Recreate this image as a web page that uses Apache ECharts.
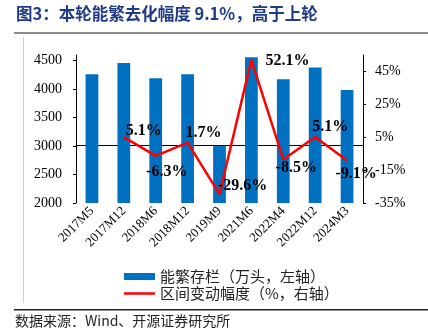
<!DOCTYPE html>
<html><head><meta charset="utf-8">
<script src="https://cdn.jsdelivr.net/npm/echarts@6/dist/echarts.min.js"></script>
<style>html,body{margin:0;padding:0;background:#fff}#c{width:428px;height:328px}</style>
</head><body><div id="c"></div>
<script>
var categories = ['2017M5','2017M12','2018M6','2018M12','2019M9','2021M6','2022M4','2022M12','2024M3'];
var sowStock = [4260, 4460, 4190, 4260, 3000, 4560, 4175, 4380, 3985];
var changePct = [null, 5.1, -6.3, 1.7, -29.6, 52.1, -8.5, 5.1, -9.1];
var labelOffsets = [null, [20,-6], [11,16], [16,-10], [23,-8], [36,1], [13,8], [15,-10], [9,13]];
var leftTicks = {min: 2000, max: 4600, interval: 500};
var rightTicks = {min: -35, max: 55, interval: 20};
var nameBar = '能繁存栏（万头，左轴）';
var nameLine = '区间变动幅度（%，右轴）';
var titleText = '图3：本轮能繁去化幅度 9.1%，高于上轮';
var sourceText = '数据来源：Wind、开源证券研究所';

var serif = '"Liberation Serif", "Times New Roman", serif';
var cjk = '"Noto Sans CJK SC", sans-serif';

var lineData = changePct.map(function(v, i){
  if (v === null) return null;
  return {value: v, label: {show: true, position: 'inside', offset: labelOffsets[i],
    formatter: v.toFixed(1) + '%'}};
});

var chart = echarts.init(document.getElementById('c'), null, {renderer: 'canvas'});
chart.setOption({
  animation: false,
  grid: {left: 76, right: 65, top: 55, bottom: 125},
  legend: [
    {data: [nameBar], left: 119, top: 264, itemWidth: 31, itemHeight: 7, icon: 'rect',
     textStyle: {fontFamily: cjk, fontSize: 15, color: '#222'}},
    {data: [{name: nameLine, icon: 'rect', itemStyle: {color: '#ff0000'}}], left: 119, top: 281, itemWidth: 31, itemHeight: 2.5,
     textStyle: {fontFamily: cjk, fontSize: 15, color: '#222'}}
  ],
  xAxis: {
    type: 'category', data: categories, boundaryGap: true,
    axisLine: {lineStyle: {color: '#000', width: 1}},
    axisTick: {inside: true, length: 4, lineStyle: {color: '#000'}},
    axisLabel: {rotate: 45, fontFamily: serif, fontSize: 13, color: '#000', margin: 6, interval: 0}
  },
  yAxis: [
    {type: 'value', min: leftTicks.min, max: leftTicks.max, interval: leftTicks.interval,
     splitLine: {show: false},
     axisLine: {show: true, lineStyle: {color: '#000'}},
     axisTick: {show: true, length: 3, lineStyle: {color: '#000'}},
     axisLabel: {fontFamily: serif, fontSize: 14, color: '#000', showMaxLabel: false, margin: 14,
       formatter: function(v){ return String(v); }}},
    {type: 'value', min: rightTicks.min, max: rightTicks.max, interval: rightTicks.interval,
     splitLine: {show: false},
     axisLine: {show: true, lineStyle: {color: '#000'}},
     axisTick: {show: true, length: 3, lineStyle: {color: '#000'}},
     axisLabel: {fontFamily: serif, fontSize: 14, color: '#000', showMaxLabel: false, margin: 12,
       formatter: function(v){ return v + '%'; }}}
  ],
  series: [
    {name: nameBar, type: 'bar', data: sowStock, barWidth: '40%', itemStyle: {color: '#0070C0'}},
    {name: nameLine, type: 'line', yAxisIndex: 1, data: lineData, connectNulls: false,
     symbol: 'circle', symbolSize: 1, itemStyle: {color: '#ff0000'},
     lineStyle: {color: '#ff0000', width: 2.5},
     label: {fontFamily: serif, fontSize: 16, fontWeight: 'bold', color: '#000'},
     z: 5}
  ],
  graphic: [
    {type: 'text', left: 16, top: 5, style: {text: titleText, font: 'bold 16.5px "Noto Sans CJK SC", sans-serif', fill: '#1f3a86'}},
    {type: 'rect', shape: {x: 14, y: 32, width: 414, height: 2}, style: {fill: '#8c8c8c'}},
    {type: 'rect', shape: {x: 23, y: 37, width: 1, height: 266}, style: {fill: '#cfcfcf'}},
    {type: 'rect', shape: {x: 14, y: 309, width: 414, height: 1.5}, style: {fill: '#222'}},
    {type: 'text', left: 15, top: 314, style: {text: sourceText, font: '14px "Noto Sans CJK SC", sans-serif', fill: '#222'}}
  ]
});
</script>
</body></html>
